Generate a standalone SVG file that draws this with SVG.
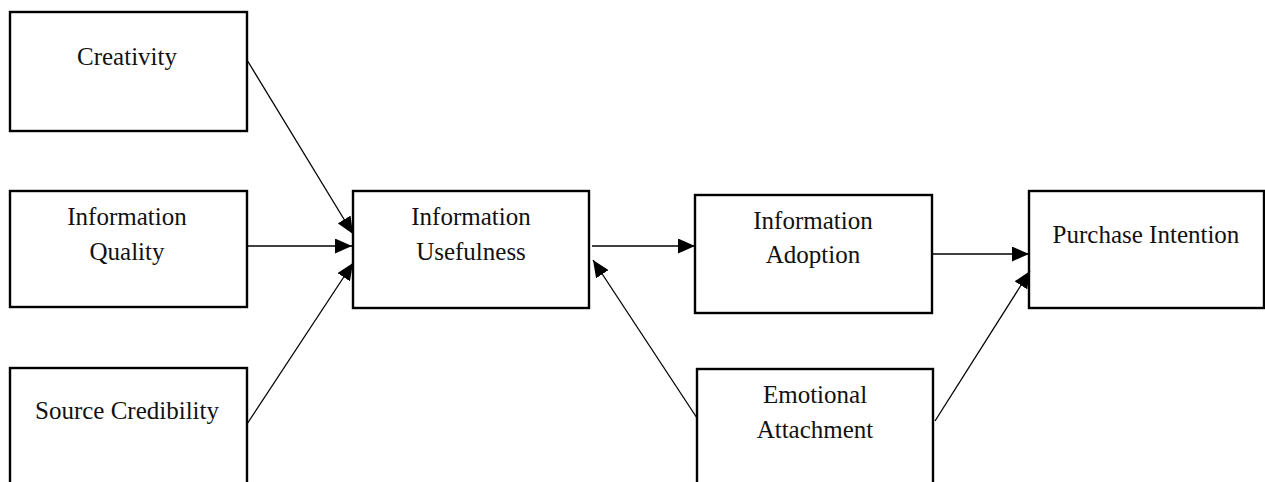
<svg xmlns="http://www.w3.org/2000/svg" width="1265" height="482" viewBox="0 0 1265 482">
<style>
.box{fill:#fff;stroke:#000;stroke-width:2.4}
.lbl{font-family:"Liberation Serif","Times New Roman",serif;font-size:25px;fill:#111;text-anchor:middle}
.edge{stroke:#000;stroke-width:1.3;fill:none;marker-end:url(#ah)}
</style>
<defs>
<marker id="ah" markerUnits="userSpaceOnUse" markerWidth="17" markerHeight="15" refX="17" refY="7.5" orient="auto">
<path d="M0,0 L17,7.5 L0,15 z" fill="#000"/>
</marker>
</defs>
<rect width="1265" height="482" fill="#fff"/>
<g id="creativity"><rect class="box" x="10" y="12" width="237" height="119"/><text class="lbl" x="127" y="65">Creativity</text></g>
<g id="info-quality"><rect class="box" x="10" y="191" width="237" height="116"/><text class="lbl" x="127" y="225">Information</text><text class="lbl" x="127" y="260">Quality</text></g>
<g id="source-credibility"><rect class="box" x="10" y="368" width="237" height="130"/><text class="lbl" x="127" y="419">Source Credibility</text></g>
<g id="info-usefulness"><rect class="box" x="353" y="191" width="236" height="117"/><text class="lbl" x="471" y="225">Information</text><text class="lbl" x="471" y="260">Usefulness</text></g>
<g id="info-adoption"><rect class="box" x="695" y="195" width="237" height="118"/><text class="lbl" x="813" y="229">Information</text><text class="lbl" x="813" y="263">Adoption</text></g>
<g id="emotional-attachment"><rect class="box" x="697" y="369" width="236" height="130"/><text class="lbl" x="815" y="403">Emotional</text><text class="lbl" x="815" y="438">Attachment</text></g>
<g id="purchase-intention"><rect class="box" x="1029" y="191" width="235" height="117"/><text class="lbl" x="1146" y="243">Purchase Intention</text></g>
<g id="connectors">
<line class="edge" x1="247" y1="60" x2="353" y2="234"/>
<line class="edge" x1="247" y1="246" x2="352" y2="246"/>
<line class="edge" x1="247" y1="424" x2="353" y2="263"/>
<line class="edge" x1="592" y1="246" x2="695" y2="246"/>
<line class="edge" x1="697" y1="418" x2="593" y2="260"/>
<line class="edge" x1="932" y1="254" x2="1029" y2="254"/>
<line class="edge" x1="935" y1="421" x2="1030" y2="271"/>
</g>
</svg>
